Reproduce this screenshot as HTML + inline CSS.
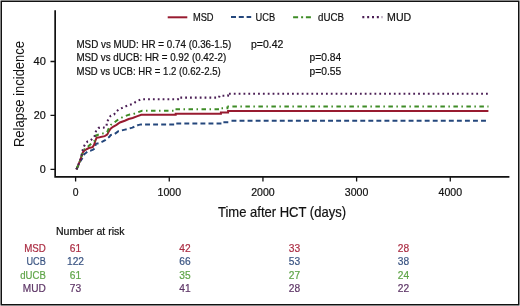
<!DOCTYPE html>
<html><head><meta charset="utf-8"><style>
html,body{margin:0;padding:0;background:#fff;}
svg{display:block;will-change:transform;font-family:"Liberation Sans",sans-serif;}
</style></head><body>
<svg width="520" height="306" viewBox="0 0 520 306">
<rect width="520" height="306" fill="#fff"/>
<rect x="1.25" y="1.25" width="517.5" height="303.5" fill="none" stroke="#111" stroke-width="1.5"/>
<path d="M55.15 10.2 V177.75 M54.3 176.9 H509.4" fill="none" stroke="#111" stroke-width="1.7"/>
<path d="M50.5 169.4 H55 M50.5 115.4 H55 M50.5 61.5 H55 M75.60 177 V181.6 M169.27 177 V181.6 M262.94 177 V181.6 M356.61 177 V181.6 M450.28 177 V181.6" fill="none" stroke="#111" stroke-width="1.3"/>
<text x="45.8" y="173.1" font-size="10.4" text-anchor="end" fill="#111" stroke="#111" stroke-width="0.2" textLength="6" lengthAdjust="spacingAndGlyphs">0</text>
<text x="45.8" y="119.10000000000001" font-size="10.4" text-anchor="end" fill="#111" stroke="#111" stroke-width="0.2" textLength="12" lengthAdjust="spacingAndGlyphs">20</text>
<text x="45.8" y="65.2" font-size="10.4" text-anchor="end" fill="#111" stroke="#111" stroke-width="0.2" textLength="12.3" lengthAdjust="spacingAndGlyphs">40</text>
<text x="75.6" y="196.3" font-size="10.4" text-anchor="middle" fill="#111" stroke="#111" stroke-width="0.2">0</text>
<text x="169.27" y="196.3" font-size="10.4" text-anchor="middle" fill="#111" stroke="#111" stroke-width="0.2" textLength="23.5" lengthAdjust="spacingAndGlyphs">1000</text>
<text x="262.94" y="196.3" font-size="10.4" text-anchor="middle" fill="#111" stroke="#111" stroke-width="0.2" textLength="23.5" lengthAdjust="spacingAndGlyphs">2000</text>
<text x="356.61" y="196.3" font-size="10.4" text-anchor="middle" fill="#111" stroke="#111" stroke-width="0.2" textLength="23.5" lengthAdjust="spacingAndGlyphs">3000</text>
<text x="450.28" y="196.3" font-size="10.4" text-anchor="middle" fill="#111" stroke="#111" stroke-width="0.2" textLength="23.5" lengthAdjust="spacingAndGlyphs">4000</text>
<text x="218" y="216.8" font-size="14.6" text-anchor="start" fill="#111" stroke="#111" stroke-width="0.2" textLength="128" lengthAdjust="spacingAndGlyphs">Time after HCT (days)</text>
<text transform="translate(23.8,147) rotate(-90)" font-size="14.6" fill="#111" textLength="106" lengthAdjust="spacingAndGlyphs">Relapse incidence</text>
<path d="M167.7 17.3 H187.3" stroke="#981b30" stroke-width="2"/>
<text x="192.9" y="20.5" font-size="10.6" text-anchor="start" fill="#111" stroke="#111" stroke-width="0.2" textLength="20.7" lengthAdjust="spacingAndGlyphs">MSD</text>
<path d="M231 17 H251.2" stroke="#24477c" stroke-width="2" stroke-dasharray="5 2.8"/>
<text x="255.6" y="20.5" font-size="10.6" text-anchor="start" fill="#111" stroke="#111" stroke-width="0.2" textLength="19.6" lengthAdjust="spacingAndGlyphs">UCB</text>
<path d="M293.1 17.2 H311.5" stroke="#3e8c26" stroke-width="2" stroke-dasharray="5 3 2 2.8"/>
<text x="318.1" y="20.5" font-size="10.6" text-anchor="start" fill="#111" stroke="#111" stroke-width="0.2" textLength="26" lengthAdjust="spacingAndGlyphs">dUCB</text>
<path d="M362.3 17.2 H382.3" stroke="#4b1f55" stroke-width="2.2" stroke-dasharray="2 2.85"/>
<text x="387.1" y="20.5" font-size="10.6" text-anchor="start" fill="#111" stroke="#111" stroke-width="0.2" textLength="24.1" lengthAdjust="spacingAndGlyphs">MUD</text>
<text x="76.4" y="47.8" font-size="10.2" text-anchor="start" fill="#111" stroke="#111" stroke-width="0.2" textLength="154.9" lengthAdjust="spacingAndGlyphs">MSD vs MUD: HR = 0.74 (0.36-1.5)</text>
<text x="251" y="47.8" font-size="10.2" text-anchor="start" fill="#111" stroke="#111" stroke-width="0.2" textLength="32.3" lengthAdjust="spacingAndGlyphs">p=0.42</text>
<text x="76.4" y="61.1" font-size="10.2" text-anchor="start" fill="#111" stroke="#111" stroke-width="0.2" textLength="149.8" lengthAdjust="spacingAndGlyphs">MSD vs dUCB: HR = 0.92 (0.42-2)</text>
<text x="309.6" y="61.1" font-size="10.2" text-anchor="start" fill="#111" stroke="#111" stroke-width="0.2" textLength="31.7" lengthAdjust="spacingAndGlyphs">p=0.84</text>
<text x="76.4" y="74.6" font-size="10.2" text-anchor="start" fill="#111" stroke="#111" stroke-width="0.2" textLength="144.3" lengthAdjust="spacingAndGlyphs">MSD vs UCB: HR = 1.2 (0.62-2.5)</text>
<text x="309.6" y="74.6" font-size="10.2" text-anchor="start" fill="#111" stroke="#111" stroke-width="0.2" textLength="31.7" lengthAdjust="spacingAndGlyphs">p=0.55</text>
<polyline points="76.5,169.4 80.5,161 83.8,156 84.2,154.3 86.1,152.7 87.8,151.2 90.2,150.8 93.1,149.6 95.1,148.4 95.6,144.3 96,143.8 99.8,142.9 104.7,140.5 109.6,136.6 110.6,135.1 114.5,134.1 118.4,131.2 125,129.6 128.3,128.8 132.3,127.6 135.6,126.3 138,125.1 140.9,124.4 174.4,124.4 174.4,123.4 222.8,123.4 222.8,122.2 228.7,122.2 228.7,120.8" fill="none" stroke="#24477c" stroke-width="2" stroke-dasharray="4.9 3.15"/>
<path d="M228.7 120.8 H486" fill="none" stroke="#24477c" stroke-width="2" stroke-dasharray="4.9 3.15" stroke-dashoffset="5.250"/>
<polyline points="76.5,169.4 80.3,160 83,152 85,150 88.8,148 92.7,147.1 94.2,144.6 95.2,141.2 96.6,137.7 99.6,137.3 104.7,136.1 107.2,134.6 108.6,131.7 110.6,128.7 113,126.8 116.5,124.8 119.9,122.5 124.8,120.7 128.7,119 132.6,118 137.5,116.1 141.3,114.7 175.7,114.7 175.7,113.8 220.9,113.8 220.9,112.4 228.1,112.4 228.1,110.9 488.4,110.9" fill="none" stroke="#981b30" stroke-width="2"/>
<polyline points="76.5,169.4 80.3,160 83.3,150.4 84.5,149.2 87.8,146.7 91.5,143.5 93.9,141.5 94.7,140.6 95.9,135.6 99.8,134.1 104.7,133.1 107.2,132.2 108.6,128.7 111.1,124.8 114.5,122.4 118.9,119 122.8,117.1 127.7,115.1 129.9,114.5 133.2,114.1 136.4,112.9 139.7,111.6 142.1,110.8 174.4,110.8 174.4,109.3 220.2,109.3 220.2,108.3 227.4,108.3 227.4,106.4" fill="none" stroke="#3e8c26" stroke-width="2" stroke-dasharray="4.5 3.5 1.5 3.5"/>
<path d="M227.4 106.4 H488.5" fill="none" stroke="#3e8c26" stroke-width="2" stroke-dasharray="4.5 3.5 1.5 3.5" stroke-dashoffset="8.000"/>
<polyline points="76.5,169.4 80.3,160 81.7,154.5 83.3,147.6 85.3,143.9 87.6,141.4 90.7,140.2 93.7,137.7 95.2,134.8 96.1,130.4 98.6,127.9 103.2,127.7 106.6,126.6 106.8,121.5 109.2,118.8 110.6,115.8 114,114.6 116,111.8 118.9,109.2 122.8,107.7 125.8,106.3 129.7,104.8 133.1,103.8 135.6,101.9 138.5,100.4 141.5,99.3 178,99.3 178,97.6 219,97.6 219.5,95.7 228,95.7 228.5,93.8" fill="none" stroke="#4b1f55" stroke-width="2.1" stroke-dasharray="1.8 3.05"/>
<path d="M228.5 93.8 H488" fill="none" stroke="#4b1f55" stroke-width="2.1" stroke-dasharray="1.8 3.05" stroke-dashoffset="4.400"/>
<text x="56" y="235" font-size="10.4" text-anchor="start" fill="#111" stroke="#111" stroke-width="0.2" textLength="68.6" lengthAdjust="spacingAndGlyphs">Number at risk</text>
<text x="45.8" y="251.9" font-size="10.2" text-anchor="end" fill="#ab2d43" stroke="#ab2d43" stroke-width="0.2" textLength="21.6" lengthAdjust="spacingAndGlyphs">MSD</text>
<text x="75.5" y="251.9" font-size="10.2" text-anchor="middle" fill="#ab2d43" stroke="#ab2d43" stroke-width="0.2">61</text>
<text x="185" y="251.9" font-size="10.2" text-anchor="middle" fill="#ab2d43" stroke="#ab2d43" stroke-width="0.2">42</text>
<text x="294.5" y="251.9" font-size="10.2" text-anchor="middle" fill="#ab2d43" stroke="#ab2d43" stroke-width="0.2">33</text>
<text x="403.5" y="251.9" font-size="10.2" text-anchor="middle" fill="#ab2d43" stroke="#ab2d43" stroke-width="0.2">28</text>
<text x="45.8" y="265.4" font-size="10.2" text-anchor="end" fill="#3a5482" stroke="#3a5482" stroke-width="0.2" textLength="19.3" lengthAdjust="spacingAndGlyphs">UCB</text>
<text x="75.5" y="265.4" font-size="10.2" text-anchor="middle" fill="#3a5482" stroke="#3a5482" stroke-width="0.2">122</text>
<text x="185" y="265.4" font-size="10.2" text-anchor="middle" fill="#3a5482" stroke="#3a5482" stroke-width="0.2">66</text>
<text x="294.5" y="265.4" font-size="10.2" text-anchor="middle" fill="#3a5482" stroke="#3a5482" stroke-width="0.2">53</text>
<text x="403.5" y="265.4" font-size="10.2" text-anchor="middle" fill="#3a5482" stroke="#3a5482" stroke-width="0.2">38</text>
<text x="45.8" y="278.9" font-size="10.2" text-anchor="end" fill="#5fa548" stroke="#5fa548" stroke-width="0.2" textLength="25.5" lengthAdjust="spacingAndGlyphs">dUCB</text>
<text x="75.5" y="278.9" font-size="10.2" text-anchor="middle" fill="#5fa548" stroke="#5fa548" stroke-width="0.2">61</text>
<text x="185" y="278.9" font-size="10.2" text-anchor="middle" fill="#5fa548" stroke="#5fa548" stroke-width="0.2">35</text>
<text x="294.5" y="278.9" font-size="10.2" text-anchor="middle" fill="#5fa548" stroke="#5fa548" stroke-width="0.2">27</text>
<text x="403.5" y="278.9" font-size="10.2" text-anchor="middle" fill="#5fa548" stroke="#5fa548" stroke-width="0.2">24</text>
<text x="45.8" y="292.4" font-size="10.2" text-anchor="end" fill="#5d3566" stroke="#5d3566" stroke-width="0.2" textLength="23" lengthAdjust="spacingAndGlyphs">MUD</text>
<text x="75.5" y="292.4" font-size="10.2" text-anchor="middle" fill="#5d3566" stroke="#5d3566" stroke-width="0.2">73</text>
<text x="185" y="292.4" font-size="10.2" text-anchor="middle" fill="#5d3566" stroke="#5d3566" stroke-width="0.2">41</text>
<text x="294.5" y="292.4" font-size="10.2" text-anchor="middle" fill="#5d3566" stroke="#5d3566" stroke-width="0.2">28</text>
<text x="403.5" y="292.4" font-size="10.2" text-anchor="middle" fill="#5d3566" stroke="#5d3566" stroke-width="0.2">22</text>
</svg>
</body></html>
